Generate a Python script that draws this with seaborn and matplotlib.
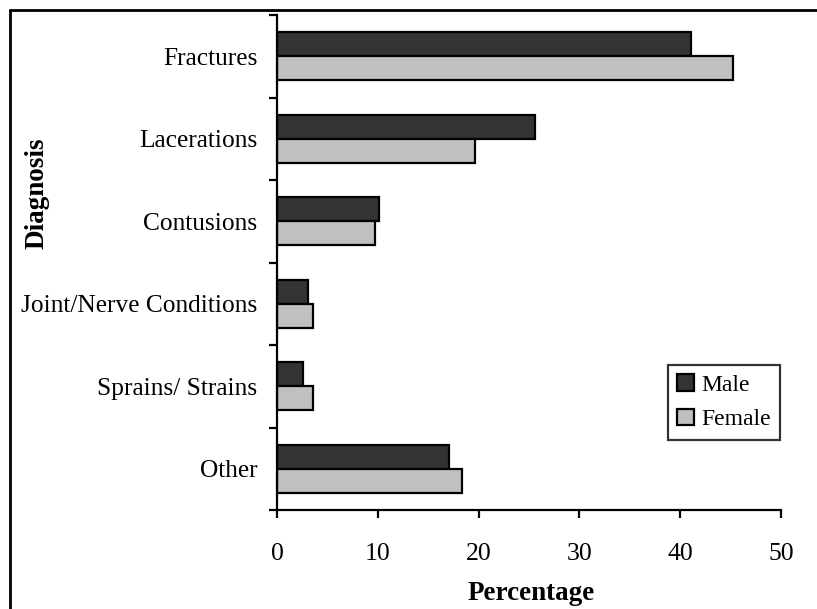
import numpy as np
import pandas as pd
import matplotlib
matplotlib.use("Agg")
import matplotlib.pyplot as plt
from matplotlib.lines import Line2D
from matplotlib.ticker import FixedLocator
import seaborn as sns

# values
diagnoses = ['Fractures', 'Lacerations', 'Contusions', 'Joint/Nerve Conditions',
             'Sprains/ Strains', 'Other']
male_pct = [41.1, 25.6, 10.1, 3.1, 2.6, 17.1]
female_pct = [45.2, 19.6, 9.7, 3.6, 3.6, 18.4]
sexes = ['Male', 'Female']
x_ticks = [0, 10, 20, 30, 40, 50]

df = pd.DataFrame({
    'Diagnosis': diagnoses * 2,
    'Percentage': male_pct + female_pct,
    'Sex': ['Male'] * len(diagnoses) + ['Female'] * len(diagnoses),
})

sns.set_theme(style='white')
plt.rcParams['font.family'] = ['Liberation Serif', 'DejaVu Serif']
plt.rcParams.update({'text.color': 'black', 'axes.labelcolor': 'black',
                     'xtick.color': 'black', 'ytick.color': 'black'})

fig = plt.figure(figsize=(8.17, 6.09), dpi=100)
ax = fig.add_axes([277 / 817, 1 - 510 / 609, (781 - 277) / 817, (510 - 15) / 609])

sns.barplot(data=df, y='Diagnosis', x='Percentage', hue='Sex', order=diagnoses,
            hue_order=sexes, palette={'Male': '#333333', 'Female': '#c0c0c0'},
            orient='h', width=0.58, edgecolor='black', linewidth=1.6,
            saturation=1, ax=ax)

ax.set_xlim(0, 50)
ax.set_ylim(len(diagnoses) - 0.5, -0.5)
ax.set_xticks(x_ticks)
ax.set_xticklabels([str(t) for t in x_ticks], fontsize=18.5)
ax.tick_params(axis='x', direction='out', length=6, width=1.6, pad=18,
               bottom=True)
ax.tick_params(axis='y', which='major', length=0, pad=14, labelsize=18.3)
ax.yaxis.set_minor_locator(FixedLocator(np.arange(-0.5, len(diagnoses), 1.0)))
ax.tick_params(axis='y', which='minor', direction='out', length=6, width=1.6,
               left=True)

for side in ['top', 'right']:
    ax.spines[side].set_visible(False)
for side in ['left', 'bottom']:
    ax.spines[side].set_color('black')
    ax.spines[side].set_linewidth(1.6)

ax.set_xlabel('Percentage', fontsize=19.5, fontweight='bold')
ax.set_ylabel('Diagnosis', fontsize=19.5, fontweight='bold')
ax.xaxis.set_label_coords(0.504, -0.143)
ax.yaxis.set_label_coords(-0.452, 0.64)

leg = ax.legend(loc='upper left', bbox_to_anchor=(668 / 817, 1 - 365 / 609),
                bbox_transform=fig.transFigure, borderaxespad=0,
                fontsize=17, frameon=True, fancybox=False,
                handlelength=0.7, handleheight=0.7, handletextpad=0.3,
                labelspacing=0.55, borderpad=0.4)
leg.get_frame().set_edgecolor('black')
leg.get_frame().set_linewidth(1.6)

# outer frame (only left and top visible in the reference)
fig.add_artist(Line2D([10 / 817, 10 / 817], [0, 1 - 10 / 609], color='black',
                      linewidth=2, transform=fig.transFigure))
fig.add_artist(Line2D([10 / 817, 1], [1 - 10 / 609, 1 - 10 / 609], color='black',
                      linewidth=2, transform=fig.transFigure))

fig.savefig('out.png', dpi=100)
